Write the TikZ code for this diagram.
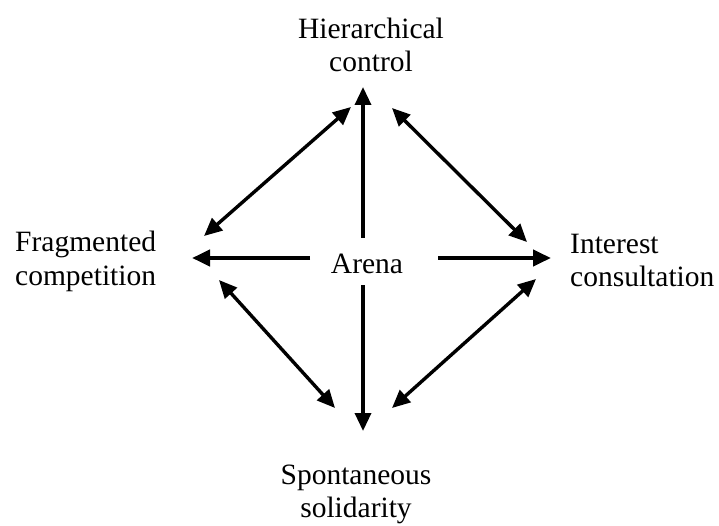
\documentclass[tikz,border=0pt]{standalone}
\usepackage{fontspec}
\setmainfont{Liberation Serif}
\usetikzlibrary{arrows.meta}
\begin{document}
\begin{tikzpicture}[x=1pt,y=-1pt,
  label/.style={inner sep=0pt, font=\fontsize{29.5}{33}\selectfont},
  tip/.tip={Triangle[length=18pt,width=16pt]},
  link/.style={line width=3.4pt, tip-tip},
  spoke/.style={line width=3.4pt, -tip},
  wide/.style={line width=4.4pt, -tip}]
  \useasboundingbox (0,0) rectangle (719,526);

  % corner labels (base anchor sits on the last line)
  \node[label, align=center, anchor=base] (hc) at (371,72) {Hierarchical\\control};
  \node[label, align=left, anchor=base west] (fc) at (15,285) {Fragmented\\competition};
  \node[label, align=left, anchor=base west] (ic) at (570,287) {Interest\\consultation};
  \node[label, align=center, anchor=base] (ss) at (356,517) {Spontaneous\\solidarity};
  \node[label, anchor=base] (arena) at (367,273) {Arena};

  % arrow end points around the centre
  \coordinate (cN) at (363,238);
  \coordinate (cS) at (363,285);
  \coordinate (cW) at (310,258);
  \coordinate (cE) at (438,258);
  \coordinate (tN) at (363,87);
  \coordinate (tS) at (363,431);
  \coordinate (tW) at (192,258);
  \coordinate (tE) at (551,258);

  % diagonal end points
  \coordinate (nw1) at (204,236);
  \coordinate (nw2) at (351,107);
  \coordinate (ne1) at (392,108);
  \coordinate (ne2) at (527,242);
  \coordinate (sw1) at (219,280);
  \coordinate (sw2) at (335,408);
  \coordinate (se1) at (392,408);
  \coordinate (se2) at (536,279);

  % spokes from the arena
  \draw[spoke] (cN) -- (tN);
  \draw[spoke] (cS) -- (tS);
  \draw[wide] (cW) -- (tW);
  \draw[wide] (cE) -- (tE);

  % two-way links between neighbouring corners
  \draw[link] (nw1) -- (nw2);
  \draw[link] (ne1) -- (ne2);
  \draw[link] (sw1) -- (sw2);
  \draw[link] (se1) -- (se2);
\end{tikzpicture}
\end{document}
